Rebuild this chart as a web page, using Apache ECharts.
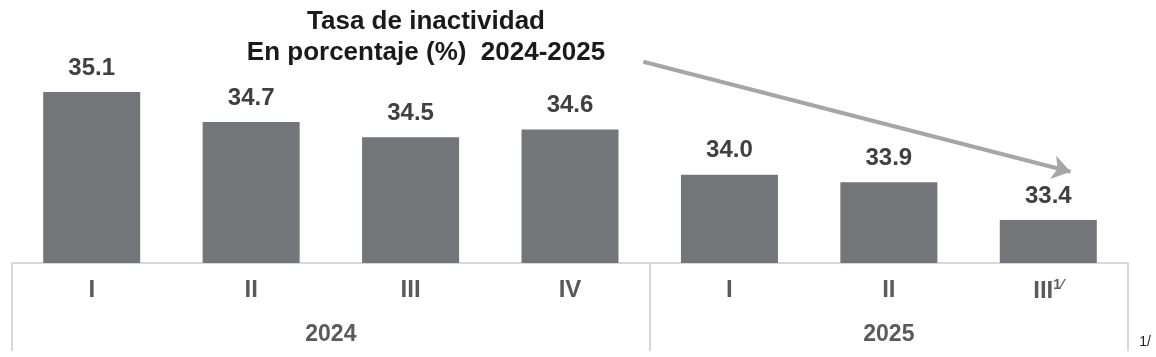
<!DOCTYPE html>
<html><head><meta charset="utf-8">
<script src="https://cdn.jsdelivr.net/npm/echarts@6/dist/echarts.min.js"></script>
<style>html,body{margin:0;padding:0;background:#fff}#c{width:1156px;height:357px}</style>
</head><body><div id="c"></div>
<script>
// ---- data ----
const quarters = ['I', 'II', 'III', 'IV', 'I', 'II', 'III'];
const quarterNotes = ['', '', '', '', '', '', '1⁄'];
const years = ['2024', '2025'];
const yearSizes = [4, 3];
const values = [35.1, 34.7, 34.5, 34.6, 34.0, 33.9, 33.4];
// trend arrow annotation, in data space (x = category position, y = value)
const arrowStart = [3.46, 35.5];
const arrowEnd = [6.14, 34.04];

// ---- build year axis: half-band points ----
const nPts = quarters.length * 2 + 1;
const yearPts = new Array(nPts).fill('');
const boundaryPts = new Set([0]);
let pos = 0;
years.forEach((y, k) => {
  yearPts[pos + yearSizes[k]] = y;
  pos += yearSizes[k] * 2;
  boundaryPts.add(pos);
});

const FONT = '"Liberation Sans", Arial, sans-serif';
const AX_COL = '#5a5a5a';
const LINE_COL = '#cccccc';

const chart = echarts.init(document.getElementById('c'), null, {renderer: 'canvas'});
chart.setOption({
  animation: false,
  backgroundColor: '#ffffff',
  title: {
    text: 'Tasa de inactividad\nEn porcentaje (%)  2024-2025',
    left: 421, top: 1, textAlign: 'center',
    textStyle: {fontFamily: FONT, fontSize: 26, fontWeight: 'bold', color: '#1a1a1a', lineHeight: 31}
  },
  grid: {left: 12, right: 28, top: 9, bottom: 94, containLabel: false},
  xAxis: [
    {
      type: 'category', data: quarters, position: 'bottom',
      axisLine: {show: true, lineStyle: {color: LINE_COL, width: 1.5}},
      axisTick: {show: false},
      axisLabel: {
        margin: 15, fontFamily: FONT, fontSize: 24, fontWeight: 'bold', color: AX_COL,
        formatter: (v, i) => quarterNotes[i] ? '{q|' + v + '}{s|' + quarterNotes[i] + '}' : v,
        rich: {
          q: {fontFamily: FONT, fontSize: 24, fontWeight: 'bold', color: AX_COL, lineHeight: 26},
          s: {fontFamily: FONT, fontSize: 14, fontWeight: 'bold', color: AX_COL, lineHeight: 16, verticalAlign: 'top'}
        }
      }
    },
    {
      type: 'category', data: yearPts, position: 'bottom', boundaryGap: false,
      axisLine: {show: false},
      axisTick: {show: true, length: 88, interval: (i) => boundaryPts.has(i), lineStyle: {color: LINE_COL, width: 1.5}},
      axisLabel: {margin: 60, interval: 0, fontFamily: FONT, fontSize: 23, fontWeight: 'bold', color: AX_COL}
    },
    {type: 'value', show: false, min: -0.5, max: quarters.length - 0.5}
  ],
  yAxis: {type: 'value', show: false, min: 32.83, max: 36.2, splitLine: {show: false}},
  series: [
    {
      type: 'bar', xAxisIndex: 0, data: values, barWidth: 97,
      itemStyle: {color: '#747579'},
      label: {
        show: true, position: 'top', distance: 12,
        formatter: (p) => p.value.toFixed(1),
        fontFamily: FONT, fontSize: 24, fontWeight: 'bold', color: '#404040'
      },
      silent: true
    },
    {
      type: 'line', xAxisIndex: 2, data: [], silent: true,
      markLine: {
        silent: true, symbol: ['none', 'arrow'], symbolSize: 18,
        label: {show: false},
        lineStyle: {color: '#a6a6a6', width: 4, type: 'solid'},
        emphasis: {disabled: true},
        data: [[{coord: arrowStart}, {coord: arrowEnd}]]
      }
    }
  ],
  graphic: [{
    type: 'text', right: 5, bottom: 8,
    style: {text: '1/', fontFamily: FONT, fontSize: 14, fontWeight: 'normal', fill: '#222'}
  }]
});
</script>
</body></html>
